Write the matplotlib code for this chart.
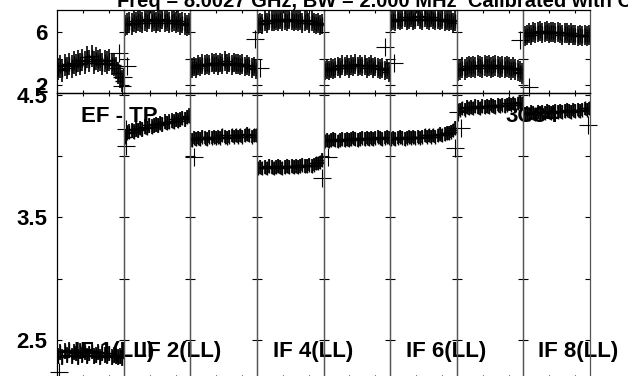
import matplotlib

matplotlib.use("Agg")
import matplotlib.pyplot as plt  # noqa: E402

plt.rcParams["font.family"] = ["Liberation Sans", "DejaVu Sans"]
plt.rcParams["font.weight"] = "bold"

# sample times within each IF window (fraction of the scan)
t = [0.02, 0.05, 0.08, 0.12, 0.15, 0.18, 0.22, 0.25, 0.28, 0.32,
     0.35, 0.38, 0.42, 0.45, 0.48, 0.52, 0.55, 0.58, 0.62, 0.65,
     0.68, 0.72, 0.75, 0.78, 0.82, 0.85, 0.88, 0.92, 0.95, 0.98]

# upper panel (8 IFs)
top_if1 = [3.2, 3.4, 3.1, 3.5, 3.3, 3.6, 3.4, 3.7, 3.5, 3.8, 3.6, 3.9, 3.7, 4.1, 3.8,
           4.2, 3.7, 4.0, 3.8, 3.9, 3.6, 3.8, 3.7, 3.9, 3.6, 3.5, 3.3, 2.9, 2.6, 2.3]
top_if2 = [6.5, 6.6, 6.7, 6.6, 6.8, 6.7, 6.9, 6.8, 6.7, 6.9, 6.8, 7.0, 6.8, 6.9, 6.7,
           6.9, 6.8, 7.0, 6.8, 6.9, 6.7, 6.8, 6.9, 6.7, 6.8, 6.6, 6.7, 6.6, 6.5, 6.6]
top_if3 = [3.3, 3.4, 3.3, 3.5, 3.4, 3.6, 3.5, 3.6, 3.5, 3.7, 3.6, 3.7, 3.5, 3.7, 3.6,
           3.8, 3.6, 3.7, 3.5, 3.7, 3.6, 3.6, 3.5, 3.6, 3.4, 3.5, 3.4, 3.3, 3.4, 3.2]
top_if4 = [6.6, 6.7, 6.6, 6.8, 6.7, 6.9, 6.8, 6.8, 6.9, 6.8, 7.0, 6.8, 6.9, 6.8, 7.0,
           6.9, 6.8, 6.9, 6.8, 6.9, 6.7, 6.8, 6.9, 6.7, 6.8, 6.7, 6.6, 6.7, 6.5, 6.6]
top_if5 = [3.1, 3.2, 3.1, 3.3, 3.2, 3.3, 3.4, 3.3, 3.5, 3.4, 3.5, 3.3, 3.5, 3.4, 3.6,
           3.4, 3.5, 3.4, 3.5, 3.3, 3.4, 3.5, 3.3, 3.4, 3.3, 3.2, 3.3, 3.1, 3.2, 3.0]
top_if6 = [6.8, 6.9, 6.8, 7.0, 6.9, 7.0, 7.1, 6.9, 7.0, 7.1, 6.9, 7.0, 7.2, 7.0, 6.9,
           7.1, 7.0, 6.9, 7.1, 7.0, 6.9, 7.0, 6.9, 7.0, 6.8, 6.9, 6.8, 6.9, 6.7, 6.8]
top_if7 = [3.1, 3.2, 3.3, 3.2, 3.3, 3.4, 3.3, 3.4, 3.3, 3.5, 3.4, 3.3, 3.5, 3.4, 3.5,
           3.3, 3.4, 3.5, 3.4, 3.3, 3.4, 3.3, 3.4, 3.3, 3.2, 3.3, 3.2, 3.1, 3.0, 2.9]
top_if8 = [5.7, 5.8, 5.9, 5.8, 6.0, 5.9, 6.0, 6.1, 5.9, 6.0, 6.1, 5.9, 6.0, 6.0, 5.9,
           6.0, 5.9, 5.8, 5.9, 5.9, 5.8, 5.9, 5.8, 5.8, 5.7, 5.8, 5.7, 5.8, 5.7, 5.8]
top_spread = [0.85, 0.8, 0.75, 0.75, 0.75, 0.75, 0.8, 0.75]

# lower panel (8 IFs)
bot_if1 = [2.37, 2.40, 2.36, 2.41, 2.38, 2.42, 2.37, 2.40, 2.39, 2.36, 2.41, 2.38, 2.40, 2.37, 2.39,
           2.41, 2.37, 2.38, 2.40, 2.36, 2.39, 2.38, 2.37, 2.39, 2.36, 2.38, 2.37, 2.36, 2.37, 2.35]
bot_if2 = [4.16, 4.19, 4.20, 4.21, 4.20, 4.22, 4.21, 4.23, 4.22, 4.24, 4.23, 4.25, 4.24, 4.25, 4.26,
           4.25, 4.27, 4.26, 4.28, 4.27, 4.28, 4.29, 4.28, 4.30, 4.29, 4.30, 4.31, 4.30, 4.32, 4.33]
bot_if3 = [4.13, 4.15, 4.14, 4.15, 4.14, 4.16, 4.15, 4.14, 4.16, 4.15, 4.16, 4.15, 4.16, 4.15, 4.17,
           4.16, 4.15, 4.16, 4.17, 4.16, 4.17, 4.16, 4.17, 4.16, 4.17, 4.18, 4.17, 4.16, 4.17, 4.17]
bot_if4 = [3.90, 3.91, 3.90, 3.91, 3.90, 3.92, 3.91, 3.90, 3.91, 3.92, 3.91, 3.90, 3.91, 3.92, 3.91,
           3.92, 3.91, 3.92, 3.91, 3.92, 3.93, 3.92, 3.92, 3.93, 3.92, 3.93, 3.94, 3.94, 3.95, 3.97]
bot_if5 = [4.12, 4.13, 4.12, 4.13, 4.14, 4.13, 4.12, 4.13, 4.14, 4.13, 4.14, 4.13, 4.14, 4.15, 4.14,
           4.13, 4.14, 4.15, 4.14, 4.15, 4.14, 4.15, 4.14, 4.15, 4.16, 4.15, 4.14, 4.15, 4.16, 4.15]
bot_if6 = [4.14, 4.15, 4.14, 4.15, 4.16, 4.15, 4.14, 4.15, 4.16, 4.15, 4.16, 4.15, 4.16, 4.15, 4.16,
           4.17, 4.16, 4.17, 4.16, 4.17, 4.16, 4.17, 4.18, 4.17, 4.18, 4.19, 4.19, 4.20, 4.21, 4.23]
bot_if7 = [4.37, 4.38, 4.39, 4.38, 4.40, 4.39, 4.40, 4.39, 4.41, 4.40, 4.39, 4.41, 4.40, 4.41, 4.40,
           4.42, 4.41, 4.40, 4.42, 4.41, 4.42, 4.41, 4.42, 4.43, 4.42, 4.43, 4.42, 4.43, 4.44, 4.43]
bot_if8 = [4.34, 4.35, 4.34, 4.36, 4.35, 4.34, 4.36, 4.35, 4.36, 4.35, 4.37, 4.36, 4.35, 4.36, 4.37,
           4.36, 4.37, 4.36, 4.37, 4.38, 4.37, 4.36, 4.38, 4.37, 4.38, 4.37, 4.38, 4.39, 4.38, 4.39]
bot_spread = [0.065, 0.06, 0.055, 0.055, 0.055, 0.055, 0.055, 0.055]

# stray points: IF index, time, value
top_out_if = [0, 0, 0, 1, 2, 3, 4, 5, 6, 7]
top_out_t = [0.97, 0.93, 0.99, 0.05, 0.97, 0.04, 0.93, 0.06, 0.95, 0.08]
top_out_v = [1.9, 4.4, 2.6, 3.45, 5.45, 3.3, 4.85, 3.66, 5.4, 1.85]
bot_out_if = [0, 1, 1, 2, 3, 4, 5, 6, 7, 6]
bot_out_t = [0.03, 0.04, 0.03, 0.06, 0.97, 0.07, 0.97, 0.07, 0.97, 0.02]
bot_out_v = [2.24, 4.08, 4.22, 3.99, 3.82, 3.99, 4.07, 4.23, 4.25, 4.36]

if_labels = ["IF 1(LL)", "IF 2(LL)", "IF 4(LL)", "IF 6(LL)", "IF 8(LL)"]
if_label_x = [74, 141, 273, 406, 538]

top_series = [top_if1, top_if2, top_if3, top_if4, top_if5, top_if6, top_if7, top_if8]
bot_series = [bot_if1, bot_if2, bot_if3, bot_if4, bot_if5, bot_if6, bot_if7, bot_if8]

W, H = 628, 376
fig = plt.figure(figsize=(W / 100, H / 100), dpi=100)


def px(x, y):
    return x / W, 1 - y / H


x0, x1 = 57, 590
pw = (x1 - x0) / 8
rows = [
    dict(series=top_series, spread=top_spread, out=(top_out_if, top_out_t, top_out_v),
         y_top=10, y_bot=93, ylim=(1.40, 7.66), yticks=[2, 4, 6], ylabels=["2", "", "6"]),
    dict(series=bot_series, spread=bot_spread, out=(bot_out_if, bot_out_t, bot_out_v),
         y_top=93, y_bot=378, ylim=(2.19, 4.515), yticks=[2.5, 3.0, 3.5, 4.0, 4.5],
         ylabels=["2.5", "", "3.5", "", "4.5"]),
]

for row in rows:
    for i in range(8):
        left = (x0 + i * pw) / W
        bottom = 1 - row["y_bot"] / H
        ax = fig.add_axes([left, bottom, pw / W, (row["y_bot"] - row["y_top"]) / H])
        ax.set_facecolor("none")
        ax.errorbar(t, row["series"][i], yerr=row["spread"][i], fmt="+", color="k",
                    ms=10, mew=1.0, elinewidth=1.2, capsize=0, zorder=2)
        oi, ot, ov = row["out"]
        ot_i = [tt for k, tt in zip(oi, ot) if k == i]
        ov_i = [vv for k, vv in zip(oi, ov) if k == i]
        ax.plot(ot_i, ov_i, "+", color="k", ms=13, mew=0.8, clip_on=False)
        ax.set_xlim(0, 1)
        ax.set_ylim(*row["ylim"])
        ax.set_xticks([0.39, 0.78])
        ax.set_xticklabels([])
        ax.set_yticks(row["yticks"])
        if i == 0:
            ax.set_yticklabels(row["ylabels"], fontsize=16, fontweight="bold")
        else:
            ax.set_yticklabels([])
        ax.tick_params(axis="y", direction="in", left=True, right=True, length=3.6, width=0.8, pad=7)
        ax.tick_params(axis="x", direction="in", top=True, bottom=True, length=2.5, width=0.8)
        for side, sp in ax.spines.items():
            sp.set_linewidth(0.9)
            sp.set_color("k" if side in ("top", "bottom") or (side == "left" and i == 0) else "#555555")

fig.text(*px(81, 117), "EF - TP", fontsize=16, fontweight="bold", va="center", ha="left", zorder=-1)
fig.text(*px(505, 117), "3C84", fontsize=16, fontweight="bold", va="center", ha="left", zorder=-1)
for lab, lx in zip(if_labels, if_label_x):
    fig.text(*px(lx, 352), lab, fontsize=16, fontweight="bold", va="center", ha="left", zorder=-1)

fig.text(*px(117, 7), "Freq = 8.0027 GHz, BW = 2.000 MHz  Calibrated with CL 1",
         fontsize=14.5, fontweight="bold", va="baseline", ha="left")

fig.savefig("out.png", dpi=100)
